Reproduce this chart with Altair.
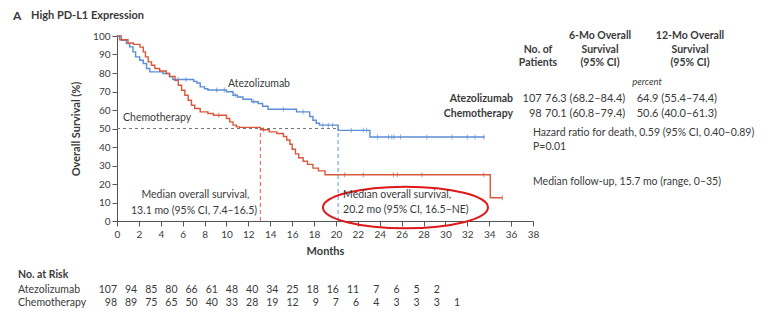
import altair as alt
import pandas as pd

FONT = "Lato"
TXT = "#3a3a3a"
BLUE = "#5b8ed6"
RED = "#d9573d"

# ---------------- data ----------------
atezo_m = [0, 0.4, 0.86, 1.16, 1.46, 1.7, 2.08, 2.4, 2.7, 3.0, 4.2, 4.8, 5.1, 7.0, 7.3, 7.6, 8.0, 8.3,
           10.0, 10.6, 11.0, 11.5, 12.3, 12.9, 13.3, 13.8, 16.4, 17.6, 17.9, 18.2, 18.5, 20.2, 23.1, 33.6]
atezo_s = [100, 97.7, 95.9, 94.1, 91.4, 88.7, 86.9, 85.1, 82.4, 80.6, 79.7, 77.9, 76.5, 75.5, 74.6, 72.5, 71.5, 70.8,
           69.9, 68.0, 67.0, 65.8, 64.5, 63.5, 62.0, 60.4, 59.0, 56.5, 54.5, 52.8, 51.8, 49.0, 45.4, 45.4]

chemo_m = [0, 0.25, 1.0, 1.5, 2.1, 2.4, 2.6, 2.85, 3.15, 3.45, 3.9, 4.5, 4.8, 5.3, 5.6, 5.9, 6.2, 6.5, 6.8, 7.1,
           7.6, 8.3, 8.8, 10.0, 10.3, 10.6, 10.9, 11.2, 13.1, 13.9, 14.6, 15.2, 15.5, 15.8, 16.0, 16.3, 16.6,
           17.0, 17.4, 17.9, 18.4, 19.0, 34.1, 35.2]
chemo_s = [100, 98, 96.2, 95.5, 94, 91.4, 88.7, 86, 84.2, 82.4, 81.1, 79.7, 78.2, 76.1, 73.4, 70.7, 68, 65.3, 62.6, 60.8,
           59, 58.1, 57.2, 55.4, 53.6, 51.8, 50.9, 50.6, 49.3, 48.2, 47.3, 45.7, 43.8, 41.5, 38.8, 36.3, 34.2,
           32.3, 30.6, 28.6, 27.1, 25.0, 12.6, 12.6]

atezo_cens_m = [5.6, 6.3, 9.1, 9.8, 10.8, 12.5, 15.2, 17.0, 18.8, 19.3, 19.7, 21.4, 22.5, 22.8,
                23.8, 24.8, 25.1, 25.3, 25.9, 28.3, 30.6, 32.0, 32.7, 33.5]
atezo_cens_s = [76.5, 76.5, 70.8, 70.8, 68.0, 64.5, 60.4, 59.0, 51.8, 51.8, 51.8, 49.0, 49.0, 49.0,
                45.4, 45.4, 45.4, 45.4, 45.4, 45.4, 45.4, 45.4, 45.4, 45.4]
chemo_cens_m = [9.3, 13.4, 20.8, 22.5, 25.25, 25.6, 27.85, 33.5, 35.2]
chemo_cens_s = [57.2, 49.3, 25.0, 25.0, 25.0, 25.0, 25.0, 25.0, 12.6]

median_atezo = 20.2
median_chemo = 13.1

risk_months = [0, 2, 4, 6, 8, 10, 12, 14, 16, 18, 20, 22, 24, 26, 28, 30, 32, 34]
risk_atezo = [107, 94, 85, 80, 66, 61, 48, 40, 34, 25, 18, 16, 11, 7, 6, 5, 2, None]
risk_chemo = [98, 89, 75, 65, 50, 40, 33, 28, 19, 12, 9, 7, 6, 4, 3, 3, 3, 1]

groups = ["Atezolizumab", "Chemotherapy"]
n_patients = ["107", "98"]
six_mo = ["76.3 (68.2\u201384.4)", "70.1 (60.8\u201379.4)"]
twelve_mo = ["64.9 (55.4\u201374.4)", "50.6 (40.0\u201361.3)"]
hazard_text = "Hazard ratio for death, 0.59 (95% CI, 0.40\u20130.89)"
p_text = "P=0.01"
follow_text = "Median follow-up, 15.7 mo (range, 0\u201335)"

x_ticks = list(range(0, 39, 2))
y_ticks = list(range(0, 101, 10))

W, H = 416, 185

# ---------------- main plot ----------------
xs = alt.Scale(domain=[0, 38], nice=False)
ys = alt.Scale(domain=[0, 100], nice=False)

xaxis = alt.Axis(values=x_ticks, title="Months", grid=False, labelOverlap=False, labelFlush=False,
                 tickSize=5, labelPadding=3, titlePadding=6)
yaxis = alt.Axis(values=y_ticks, title="Overall Survival (%)", grid=False, labelOverlap=False,
                 labelFlush=False, tickSize=5, labelPadding=2, titlePadding=11)

curves = pd.concat([
    pd.DataFrame({"m": atezo_m, "s": atezo_s, "g": "Atezolizumab"}),
    pd.DataFrame({"m": chemo_m, "s": chemo_s, "g": "Chemotherapy"}),
])
cens = pd.concat([
    pd.DataFrame({"m": atezo_cens_m, "s": atezo_cens_s, "g": "Atezolizumab"}),
    pd.DataFrame({"m": chemo_cens_m, "s": chemo_cens_s, "g": "Chemotherapy"}),
])
color = alt.Color("g:N", scale=alt.Scale(domain=groups, range=[BLUE, RED]), legend=None)


def X(field):
    return alt.X(field, scale=xs, axis=xaxis)


def Y(field):
    return alt.Y(field, scale=ys, axis=yaxis)


base_axes = alt.Chart(curves).mark_line(interpolate="step-after", strokeWidth=1.4).encode(
    x=X("m:Q"), y=Y("s:Q"), color=color, detail="g:N")

ticks = alt.Chart(cens).mark_tick(orient="vertical", size=5, thickness=1).encode(
    x=X("m:Q"), y=Y("s:Q"), color=color)

med = pd.DataFrame({"m0": [0], "m": [median_atezo], "s": [50]})
hline = alt.Chart(med).mark_rule(color="#777", strokeDash=[3, 3], strokeWidth=1).encode(
    x=X("m0:Q"), x2="m:Q", y=Y("s:Q"))

vmed = pd.DataFrame({"m": [median_chemo, median_atezo], "s0": [0, 0], "s": [50, 50], "g": groups[::-1]})
vlines = alt.Chart(vmed).mark_rule(strokeDash=[4, 3], strokeWidth=1.2, opacity=0.8).encode(
    x=X("m:Q"), y=Y("s0:Q"), y2="s:Q",
    color=alt.Color("g:N", scale=alt.Scale(domain=groups, range=["#86aee0", "#e58a7a"]), legend=None))


def ann(text, m, s, align="left", size=10.5):
    d = pd.DataFrame({"m": [m], "s": [s], "t": [text]})
    return alt.Chart(d).mark_text(align=align, baseline="middle", font=FONT, fontSize=size,
                                  color=TXT).encode(x=X("m:Q"), y=Y("s:Q"), text="t:N")


annots = [
    ann("Atezolizumab", 12.97, 74.0, "center"),
    ann("Chemotherapy", 0.55, 55.7, "left"),
    ann("Median overall survival,", 12.1, 14.1, "right"),
    ann("13.1 mo (95% CI, 7.4\u201316.5)", 12.8, 5.6, "right"),
    ann("Median overall survival,", 20.65, 14.1, "left"),
    ann("20.2 mo (95% CI, 16.5\u2013NE)", 20.65, 5.9, "left"),
]

ELLIPSE = "M -1 0 A 1 0.252 0 1 1 1 0 A 1 0.252 0 1 1 -1 0 Z"
ell = alt.Chart(pd.DataFrame({"m": [26.35], "s": [7.3]})).mark_point(
    shape=ELLIPSE, size=165 * 165, filled=False, stroke="#e01818", strokeWidth=2, opacity=1).encode(
    x=X("m:Q"), y=Y("s:Q"))

main = alt.layer(base_axes, hline, vlines, ticks, ell, *annots)

# ---------------- pixel-positioned texts ----------------
one = pd.DataFrame({"a": [0]})


def lab(text, x, y, align="left", bold=False, size=10.5, italic=False):
    kw = dict(align=align, baseline="middle", font=FONT, fontSize=size, color=TXT,
              fontWeight="bold" if bold else "normal", text=text)
    if italic:
        kw["fontStyle"] = "italic"
    return alt.Chart(one).mark_text(**kw).encode(x=alt.value(x), y=alt.value(y))


texts = [
    lab("A", -104, -20, bold=True, size=12),
    lab("High PD-L1 Expression", -86, -20, bold=True, size=11),
    lab("No. of", 421, 14, "center", True),
    lab("Patients", 421, 27.3, "center", True),
    lab("6-Mo Overall", 483, 0, "center", True),
    lab("Survival", 483, 14, "center", True),
    lab("(95% CI)", 483, 27.3, "center", True),
    lab("12-Mo Overall", 573, 0, "center", True),
    lab("Survival", 573, 14, "center", True),
    lab("(95% CI)", 573, 27.3, "center", True),
    lab("percent", 530, 45.7, "center", italic=True, size=9.5),
    lab(hazard_text, 416, 97.3),
    lab(p_text, 416, 110.7),
    lab(follow_text, 416, 145.7),
    lab("No. at Risk", -99, 239, bold=True),
    lab(groups[0], -99, 254),
    lab(groups[1], -99, 267.3),
]
row_y = [63, 78]
for i in range(2):
    texts.append(lab(groups[i], 396, row_y[i], "right", True))
    texts.append(lab(n_patients[i], 424.7, row_y[i], "right", size=11))
    texts.append(lab(six_mo[i], 428, row_y[i], size=11))
    texts.append(lab(twelve_mo[i], 519.7, row_y[i], size=11))

# ---------------- risk table ----------------
rs = alt.Scale(domain=[0, 34], range=[0, 343], nice=False)
risk_layers = []
for vals, yy in [(risk_atezo, 254), (risk_chemo, 267.3)]:
    d = pd.DataFrame({"m": risk_months, "n": vals}).dropna()
    d["n"] = d["n"].astype(int).astype(str)
    risk_layers.append(alt.Chart(d).mark_text(align="right", baseline="middle", font=FONT,
                                              fontSize=10.5, color=TXT).encode(
        x=alt.X("m:Q", scale=rs, axis=None), y=alt.value(yy), text="n:N"))
risk = alt.layer(*risk_layers)

chart = alt.layer(main, risk, *texts).resolve_scale(x="independent").properties(
    width=W, height=H,
    autosize=alt.AutoSizeParams(type="none"),
    padding={"left": 109, "top": 28, "right": 228, "bottom": 93},
    background="white",
).configure_view(stroke=None).configure_axis(
    labelOverlap=False, labelFlush=False, grid=False,
    labelFontSize=10, labelFont=FONT, labelColor=TXT,
    titleFont=FONT, titleFontSize=11, titleFontWeight="bold", titleColor=TXT,
    domainColor="#555", tickColor="#555",
)

chart.save("out.html", embed_options={"renderer": "svg", "actions": False})
